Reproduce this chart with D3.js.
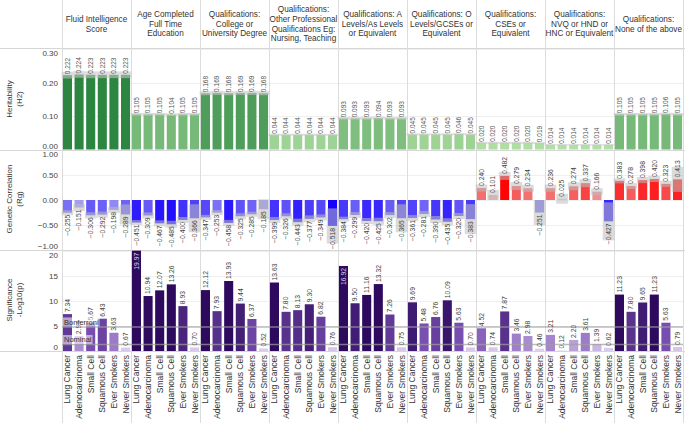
<!DOCTYPE html>
<html>
<head>
<meta charset="utf-8">
<script src="https://cdn.jsdelivr.net/npm/d3@7"></script>
<style>
  body { margin: 0; background: #fff; }
  svg { display: block; font-family: "Liberation Sans", Arial, sans-serif; }
</style>
</head>
<body>
<svg id="svg"></svg>
<script>
// column headers (one entry per wrapped line)
const traits = [
  ["Fluid Intelligence", "Score"],
  ["Age Completed", "Full Time", "Education"],
  ["Qualifications:", "College or", "University Degree"],
  ["Qualifications:", "Other Professional", "Qualifications Eg:", "Nursing, Teaching"],
  ["Qualifications: A", "Levels/As Levels", "or Equivalent"],
  ["Qualifications: O", "Levels/GCSEs or", "Equivalent"],
  ["Qualifications:", "CSEs or", "Equivalent"],
  ["Qualifications:", "NVQ or HND or", "HNC or Equivalent"],
  ["Qualifications:", "None of the above"]
];

const cancers = ["Lung Cancer", "Adenocarcinoma", "Small Cell", "Squamous Cell", "Ever Smokers", "Never Smokers"];

const heritability = [
  [0.222, 0.224, 0.223, 0.223, 0.223, 0.223],
  [0.105, 0.105, 0.105, 0.104, 0.105, 0.105],
  [0.168, 0.169, 0.168, 0.169, 0.169, 0.168],
  [0.044, 0.044, 0.044, 0.044, 0.044, 0.044],
  [0.093, 0.093, 0.093, 0.094, 0.093, 0.093],
  [0.045, 0.045, 0.045, 0.045, 0.046, 0.045],
  [0.020, 0.020, 0.020, 0.020, 0.020, 0.019],
  [0.014, 0.014, 0.014, 0.014, 0.014, 0.014],
  [0.105, 0.105, 0.105, 0.105, 0.106, 0.105]
];
const heritabilitySe = [
  [0.010, 0.010, 0.010, 0.010, 0.010, 0.010],
  [0.004, 0.004, 0.004, 0.004, 0.004, 0.004],
  [0.006, 0.006, 0.006, 0.006, 0.006, 0.006],
  [0.003, 0.003, 0.003, 0.003, 0.003, 0.003],
  [0.004, 0.004, 0.004, 0.004, 0.004, 0.004],
  [0.003, 0.003, 0.003, 0.003, 0.003, 0.003],
  [0.003, 0.003, 0.003, 0.003, 0.003, 0.003],
  [0.002, 0.002, 0.002, 0.002, 0.002, 0.002],
  [0.004, 0.004, 0.004, 0.004, 0.004, 0.004]
];

const geneticCorr = [
  [-0.255, -0.151, -0.306, -0.292, -0.198, -0.289],
  [-0.451, -0.309, -0.467, -0.485, -0.400, -0.366],
  [-0.347, -0.253, -0.458, -0.325, -0.285, -0.185],
  [-0.399, -0.326, -0.443, -0.377, -0.349, -0.518],
  [-0.384, -0.299, -0.420, -0.425, -0.302, -0.365],
  [-0.361, -0.281, -0.390, -0.435, -0.320, -0.383],
  [0.240, 0.101, 0.482, 0.279, 0.234, -0.251],
  [0.236, 0.025, 0.274, 0.337, 0.166, -0.427],
  [0.383, 0.278, 0.398, 0.420, 0.323, 0.413]
];
const geneticCorrSe = [
  [0.05, 0.07, 0.06, 0.06, 0.06, 0.20],
  [0.05, 0.06, 0.06, 0.07, 0.06, 0.28],
  [0.05, 0.05, 0.06, 0.06, 0.05, 0.20],
  [0.06, 0.06, 0.07, 0.07, 0.06, 0.35],
  [0.05, 0.06, 0.06, 0.07, 0.06, 0.28],
  [0.06, 0.06, 0.07, 0.07, 0.06, 0.30],
  [0.07, 0.10, 0.08, 0.08, 0.07, 0.25],
  [0.07, 0.10, 0.08, 0.08, 0.07, 0.38],
  [0.05, 0.06, 0.06, 0.06, 0.06, 0.25]
];

const significance = [
  [7.34, 2.94, 5.67, 6.43, 3.63, 0.67],
  [19.97, 10.94, 12.07, 13.26, 8.93, 0.70],
  [12.12, 7.93, 13.93, 9.44, 6.37, 0.52],
  [13.63, 7.80, 8.13, 9.30, 6.82, 0.76],
  [16.92, 9.50, 11.16, 13.32, 7.26, 0.75],
  [9.69, 5.48, 6.76, 10.09, 5.63, 0.70],
  [4.52, 0.74, 7.87, 3.46, 2.98, 0.46],
  [3.21, 0.12, 2.20, 3.61, 1.39, 0.62],
  [11.23, 7.80, 9.65, 11.23, 5.63, 0.79]
];

const refLines = [
  { name: "Bonferroni", value: 4.8 },
  { name: "Nominal", value: 1.3 }
];

const h2Ticks = [0, 0.1, 0.2, 0.3];
const rgTicks = [-1, -0.5, 0, 0.5, 1];
const sigTicks = [0, 5, 10, 15, 20];

const width = 685;
const height = 423;

const svg = d3.select('#svg')
  .attr('width', width)
  .attr('height', height);

// flatten into one record per bar
const rows = traits.flatMap((t, i) => cancers.map((c, j) => ({
  g: i,
  cancer: c,
  h2: heritability[i][j],
  h2se: heritabilitySe[i][j],
  rg: geneticCorr[i][j],
  rgse: geneticCorrSe[i][j],
  p: significance[i][j]
})));

// scales
const xGroup = d3.scaleBand().domain(d3.range(traits.length)).range([62, 683]);
const xBar = d3.scaleBand().domain(cancers).range([0, xGroup.bandwidth()])
  .paddingInner(0.22).paddingOuter(0.08);
const bx = d => xGroup(d.g) + xBar(d.cancer);
const cx = d => bx(d) + xBar.bandwidth() / 2;

const yH2 = d3.scaleLinear().domain([0, 0.3]).range([149.5, 49]);
const yRg = d3.scaleLinear().domain([-1, 1]).range([250, 150]);
const ySig = d3.scaleLinear().domain([0, 20]).range([351, 250.5]);

const greenColor = d3.scaleLinear().domain([0.01, 0.224])
  .range(["#b4e2a6", "#2b8540"]).clamp(true);
const blueColor = d3.scaleLinear().domain([0, 0.52])
  .range(["#dcdcec", "#1400ff"]).clamp(true);
const redColor = d3.scaleLinear().domain([0, 0.49])
  .range(["#e8d8d8", "#ff0000"]).clamp(true);
const purpleColor = d3.scaleLinear().domain([0, 5, 11])
  .range(["#e6dcf2", "#8055b8", "#2d0a5e"]).clamp(true);
const rgColor = v => v < 0 ? blueColor(-v) : redColor(v);

// gridlines
const grid = svg.append('g');
[[yH2, h2Ticks], [yRg, rgTicks], [ySig, sigTicks]].forEach(([y, ticks]) => {
  grid.selectAll(null)
    .data(ticks)
    .enter().append('line')
    .attr('x1', 62).attr('x2', 683)
    .attr('y1', d => Math.round(y(d)) + 0.5)
    .attr('y2', d => Math.round(y(d)) + 0.5)
    .attr('stroke', '#efefef');
});

// panel separators
grid.selectAll(null)
  .data([48.5, 150.5, 250.5, 351.5])
  .enter().append('line')
  .attr('x1', 0).attr('x2', width)
  .attr('y1', d => d).attr('y2', d => d)
  .attr('stroke', '#d6d6d6');

grid.selectAll(null)
  .data(d3.range(traits.length + 1))
  .enter().append('line')
  .attr('x1', d => Math.round(d < traits.length ? xGroup(d) : 683) + 0.5)
  .attr('x2', d => Math.round(d < traits.length ? xGroup(d) : 683) + 0.5)
  .attr('y1', 0).attr('y2', height)
  .attr('stroke', '#dcdcdc');

// column headers
const headers = svg.append('g')
  .attr('font-size', '8.2px')
  .attr('fill', '#333');
traits.forEach((lines, i) => {
  const mid = xGroup(i) + xGroup.bandwidth() / 2;
  const lh = 9.6;
  const top = 24 - (lines.length - 1) * lh / 2;
  lines.forEach((line, k) => {
    headers.append('text')
      .attr('x', mid)
      .attr('y', top + k * lh)
      .attr('dy', '0.35em')
      .attr('text-anchor', 'middle')
      .text(line);
  });
});

// y axes
function drawAxis(y, ticks, fmt) {
  const ax = svg.append('g')
    .attr('transform', 'translate(62,0)')
    .call(d3.axisLeft(y).tickValues(ticks).tickSize(0).tickPadding(4).tickFormat(fmt));
  ax.select('.domain').remove();
  ax.selectAll('text')
    .attr('font-size', '8px')
    .attr('font-family', '"Liberation Sans", Arial, sans-serif')
    .attr('fill', '#444');
  // keep the end labels inside the pane
  const lo = d3.min(ticks), hi = d3.max(ticks);
  ax.selectAll('.tick')
    .filter(d => d === hi)
    .select('text').attr('transform', 'translate(0,4)');
  ax.selectAll('.tick')
    .filter(d => d === lo)
    .select('text').attr('transform', 'translate(0,-4)');
}
drawAxis(yH2, h2Ticks, d3.format('.2f'));
drawAxis(yRg, rgTicks, d3.format('.2f'));
drawAxis(ySig, sigTicks, d3.format('d'));

// y axis titles
const titles = [
  { lines: ["Heritability", "(H2)"], y: 99 },
  { lines: ["Genetic Correlation", "(Rg)"], y: 199 },
  { lines: ["Significance", "-Log10(p)"], y: 300 }
];
titles.forEach(t => {
  t.lines.forEach((line, k) => {
    svg.append('text')
      .attr('transform', `translate(${9 + k * 10},${t.y}) rotate(-90)`)
      .attr('text-anchor', 'middle')
      .attr('dy', '0.35em')
      .attr('font-size', '8px')
      .attr('fill', '#333')
      .text(line);
  });
});

// Heritability bars
const h2g = svg.append('g');
h2g.selectAll('rect.bar')
  .data(rows)
  .enter().append('rect')
  .attr('class', 'bar')
  .attr('x', bx)
  .attr('width', xBar.bandwidth())
  .attr('y', d => yH2(d.h2))
  .attr('height', d => yH2(0) - yH2(d.h2))
  .attr('fill', d => greenColor(d.h2));

h2g.selectAll('rect.se')
  .data(rows)
  .enter().append('rect')
  .attr('class', 'se')
  .attr('x', d => bx(d) - (xBar.step() - xBar.bandwidth()) / 2)
  .attr('width', xBar.step())
  .attr('y', d => yH2(d.h2 + d.h2se))
  .attr('height', d => yH2(d.h2 - d.h2se) - yH2(d.h2 + d.h2se))
  .attr('fill', '#c4c4c4')
  .attr('opacity', 0.6);

h2g.selectAll('text')
  .data(rows)
  .enter().append('text')
  .attr('transform', d => `translate(${cx(d)},${yH2(d.h2) - 1}) rotate(-90)`)
  .attr('text-anchor', 'start')
  .attr('dy', '0.35em')
  .attr('font-size', '6.5px')
  .attr('fill', '#555')
  .text(d => d3.format('.3f')(d.h2));

// Genetic correlation bars
const rgg = svg.append('g');
rgg.selectAll('rect.bar')
  .data(rows)
  .enter().append('rect')
  .attr('class', 'bar')
  .attr('x', bx)
  .attr('width', xBar.bandwidth())
  .attr('y', d => yRg(Math.max(0, d.rg)))
  .attr('height', d => Math.abs(yRg(d.rg) - yRg(0)))
  .attr('fill', d => rgColor(d.rg));

rgg.selectAll('rect.se')
  .data(rows)
  .enter().append('rect')
  .attr('class', 'se')
  .attr('x', d => bx(d) - (xBar.step() - xBar.bandwidth()) / 2)
  .attr('width', xBar.step())
  .attr('y', d => yRg(d.rg + d.rgse))
  .attr('height', d => yRg(d.rg - d.rgse) - yRg(d.rg + d.rgse))
  .attr('fill', '#bdbdbd')
  .attr('opacity', 0.55);

rgg.selectAll('text')
  .data(rows)
  .enter().append('text')
  .attr('transform', d => `translate(${cx(d)},${d.rg < 0 ? yRg(d.rg) + 2 : yRg(d.rg) - 2}) rotate(-90)`)
  .attr('text-anchor', d => d.rg < 0 ? 'end' : 'start')
  .attr('dy', '0.35em')
  .attr('font-size', '6.8px')
  .attr('fill', '#444')
  .text(d => d3.format('.3f')(d.rg));

// Significance bars
const sg = svg.append('g');
sg.selectAll('rect')
  .data(rows)
  .enter().append('rect')
  .attr('x', bx)
  .attr('width', xBar.bandwidth())
  .attr('y', d => ySig(d.p))
  .attr('height', d => ySig(0) - ySig(d.p))
  .attr('fill', d => purpleColor(d.p));

// reference lines
refLines.forEach(r => {
  const y = ySig(r.value);
  sg.append('line')
    .attr('x1', 62).attr('x2', 683)
    .attr('y1', y).attr('y2', y)
    .attr('stroke', '#a0a0a0')
    .attr('stroke-width', 1.5)
    .attr('opacity', 0.7);
});

const inside = d => ySig(d.p) - 20 < ySig.range()[1];
sg.selectAll('text.val')
  .data(rows)
  .enter().append('text')
  .attr('class', 'val')
  .attr('transform', d => `translate(${cx(d)},${inside(d) ? ySig(d.p) + 2 : ySig(d.p) - 2}) rotate(-90)`)
  .attr('text-anchor', d => inside(d) ? 'end' : 'start')
  .attr('dy', '0.35em')
  .attr('font-size', '6.8px')
  .attr('fill', d => inside(d) ? '#d8d0e6' : '#444')
  .text(d => d3.format('.2f')(d.p));

refLines.forEach(r => {
  const y = ySig(r.value);
  const lbl = sg.append('g').attr('transform', `translate(63,${y - 5})`);
  const txt = lbl.append('text')
    .attr('x', 1)
    .attr('dy', '0.35em')
    .attr('font-size', '7.5px')
    .attr('fill', '#333')
    .text(r.name);
  const w = txt.node().getComputedTextLength();
  lbl.insert('rect', 'text')
    .attr('x', 0).attr('y', -4.5)
    .attr('width', w + 2).attr('height', 9)
    .attr('fill', '#fff')
    .attr('opacity', 0.55);
});

// category labels
svg.append('g').selectAll('text')
  .data(rows)
  .enter().append('text')
  .attr('transform', d => `translate(${cx(d)},355) rotate(-90)`)
  .attr('text-anchor', 'end')
  .attr('dy', '0.35em')
  .attr('font-size', '8.5px')
  .attr('fill', '#333')
  .text(d => d.cancer);
</script>
</body>
</html>
